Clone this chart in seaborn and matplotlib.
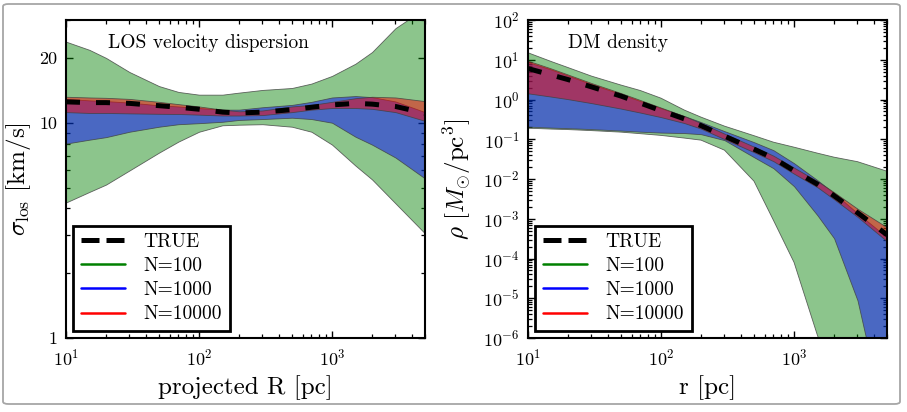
import matplotlib
matplotlib.use("Agg")
import matplotlib.pyplot as plt
import seaborn as sns
import pandas as pd
from matplotlib.lines import Line2D
from matplotlib.patches import FancyBboxPatch
from matplotlib.ticker import FixedLocator, FixedFormatter, LogLocator, NullFormatter

# ---------------- data ----------------
R = [10, 15, 20, 30, 50, 70, 100, 150, 200, 300, 500, 700, 1000, 1500, 2000, 3000, 5000]
sig_true = [12.5, 12.4, 12.4, 12.3, 12.0, 11.8, 11.55, 11.2, 11.1, 11.2, 11.5, 11.8, 12.1, 12.3, 12.2, 11.9, 11.07]
sig_n100_hi = [23.8, 21.8, 20.0, 17.2, 14.8, 13.9, 13.5, 13.5, 13.8, 14.2, 14.5, 15.2, 16.5, 18.8, 21.3, 27.5, 34.0]
sig_n100_lo = [4.26, 4.77, 5.16, 6.0, 7.26, 8.17, 9.08, 9.73, 9.79, 9.84, 9.58, 9.08, 7.91, 6.32, 5.45, 4.22, 3.06]
sig_n1000_hi = [12.9, 12.7, 12.6, 12.4, 12.05, 11.9, 11.7, 11.5, 11.5, 11.8, 12.1, 12.5, 13.1, 13.3, 13.15, 12.55, 11.2]
sig_n1000_lo = [8.0, 8.34, 8.57, 9.08, 9.58, 9.84, 9.95, 10.1, 10.3, 10.4, 10.55, 10.4, 10.0, 8.61, 7.91, 6.89, 5.51]
sig_n10000_hi = [13.2, 13.1, 13.05, 12.9, 12.5, 12.2, 11.9, 11.5, 11.3, 11.4, 11.9, 12.1, 12.5, 13.0, 13.2, 13.1, 12.6]
sig_n10000_lo = [11.2, 11.1, 11.1, 11.05, 11.0, 10.98, 10.9, 10.8, 10.8, 10.85, 11.2, 11.5, 11.7, 11.7, 11.6, 11.2, 10.2]

r = [10, 15, 20, 30, 50, 70, 100, 150, 200, 300, 500, 700, 1000, 1500, 2000, 3000, 5000]
rho_true = [6.0, 4.14, 3.17, 2.08, 1.22, 0.811, 0.525, 0.325, 0.220, 0.120, 0.0563, 0.0334, 0.0162, 0.00740, 0.00379, 0.00142, 3.95e-4]
rho_n100_hi = [15.0, 9.0, 6.36, 3.88, 2.31, 1.68, 1.08, 0.541, 0.360, 0.214, 0.123, 0.0845, 0.0632, 0.0447, 0.0354, 0.0273, 0.0157]
rho_n100_lo = [0.190, 0.180, 0.175, 0.165, 0.151, 0.138, 0.125, 0.107, 0.0949, 0.0531, 0.00881, 9.16e-4, 8.0e-5, 1.16e-6, 9.6e-8, 2.8e-9, 3.2e-11]
rho_n1000_hi = [8.75, 5.66, 4.0, 2.44, 1.37, 0.912, 0.607, 0.382, 0.270, 0.160, 0.0845, 0.0531, 0.0250, 0.00933, 0.00439, 0.00138, 3.42e-4]
rho_n1000_lo = [0.208, 0.196, 0.190, 0.180, 0.165, 0.155, 0.147, 0.143, 0.134, 0.0949, 0.0354, 0.0187, 0.00659, 0.00122, 3.23e-4, 8.85e-6, 4.7e-9]
rho_n10000_hi = [9.44, 6.0, 4.24, 2.59, 1.45, 0.966, 0.625, 0.382, 0.255, 0.138, 0.0651, 0.0386, 0.0193, 0.00881, 0.00465, 0.00179, 6.1e-4]
rho_n10000_lo = [1.43, 1.18, 1.02, 0.811, 0.590, 0.468, 0.360, 0.255, 0.185, 0.1007, 0.0473, 0.0281, 0.0136, 0.00621, 0.00310, 0.00112, 2.71e-4]

legend_labels = ["TRUE", "N=100", "N=1000", "N=10000"]
band_colors = ["green", "blue", "red"]

# ---------------- style ----------------
sns.set_theme(style="ticks")
plt.rcParams.update({
    "font.family": ["cmr10", "DejaVu Serif"],
    "mathtext.fontset": "cm",
    "axes.formatter.use_mathtext": True,
    "axes.unicode_minus": False,
    "axes.linewidth": 1.5,
    "axes.edgecolor": "black",
    "xtick.direction": "in",
    "ytick.direction": "in",
    "xtick.top": True,
    "ytick.right": True,
    "xtick.major.size": 5,
    "ytick.major.size": 5,
    "xtick.minor.size": 3,
    "ytick.minor.size": 3,
    "xtick.major.width": 1.0,
    "ytick.major.width": 1.0,
    "xtick.minor.width": 0.9,
    "ytick.minor.width": 0.9,
    "xtick.color": "black",
    "ytick.color": "black",
    "xtick.labelsize": 13,
    "ytick.labelsize": 13,
    "xtick.major.pad": 7,
    "ytick.major.pad": 6,
    "text.color": "black",
    "axes.labelcolor": "black",
})

fig = plt.figure(figsize=(9.07, 4.12), dpi=100)
ax1 = fig.add_axes([66 / 907, 74 / 412, 359 / 907, 318 / 412])
ax2 = fig.add_axes([528 / 907, 74 / 412, 359 / 907, 318 / 412])

alphas = [0.45, 0.47, 0.48]


def draw_panel(ax, x, true, bands):
    for (lo, hi), col, a in zip(bands, band_colors, alphas):
        ax.fill_between(x, lo, hi, facecolor=matplotlib.colors.to_rgba(col, a),
                        edgecolor=(0.25, 0.25, 0.25, 0.8), linewidth=0.6, zorder=2)
    df = pd.DataFrame({"x": x, "y": true})
    sns.lineplot(data=df, x="x", y="y", ax=ax, color="black", linewidth=3.6,
                 legend=False, zorder=5)
    ln = ax.lines[-1]
    ln.set_dashes((2.8, 3.2))
    ln.set_dash_capstyle("butt")
    ax.set_xscale("log")
    ax.set_yscale("log")
    ax.set_xlim(10, 5000)
    ax.xaxis.set_major_locator(LogLocator(base=10, numticks=10))
    ax.xaxis.set_minor_locator(LogLocator(base=10, subs=range(2, 10), numticks=20))
    ax.xaxis.set_minor_formatter(NullFormatter())
    handles = [
        Line2D([], [], color="black", lw=3.6, dashes=(3.6, 1.4), dash_capstyle="butt"),
        Line2D([], [], color=band_colors[0], lw=1.8),
        Line2D([], [], color=band_colors[1], lw=1.8),
        Line2D([], [], color=band_colors[2], lw=1.8),
    ]
    leg = ax.legend(handles, legend_labels, loc="lower left", fontsize=14,
                    frameon=True, fancybox=False, framealpha=1, edgecolor="black",
                    borderaxespad=0.37, borderpad=0.38, handlelength=2.3,
                    handletextpad=0.95, labelspacing=0.32)
    leg.get_frame().set_linewidth(2.0)
    leg.set_zorder(10)
    for s in ax.spines.values():
        s.set_zorder(12)


draw_panel(ax1, R, sig_true, [(sig_n100_lo, sig_n100_hi), (sig_n1000_lo, sig_n1000_hi),
                              (sig_n10000_lo, sig_n10000_hi)])
draw_panel(ax2, r, rho_true, [(rho_n100_lo, rho_n100_hi), (rho_n1000_lo, rho_n1000_hi),
                              (rho_n10000_lo, rho_n10000_hi)])

# left axis ticks
ax1.set_ylim(1, 30)
ax1.yaxis.set_major_locator(FixedLocator([1, 10, 20]))
ax1.yaxis.set_major_formatter(FixedFormatter(["1", "10", "20"]))
ax1.yaxis.set_minor_locator(LogLocator(base=10, subs=range(2, 10), numticks=20))
ax1.yaxis.set_minor_formatter(NullFormatter())

# right axis ticks
ax2.set_ylim(1e-6, 1e2)
ax2.yaxis.set_major_locator(LogLocator(base=10, numticks=20))
ax2.yaxis.set_minor_locator(LogLocator(base=10, subs=range(2, 10), numticks=30))
ax2.yaxis.set_minor_formatter(NullFormatter())

ax1.set_xlabel("projected R [pc]", fontsize=18)
ax1.set_ylabel(r"$\sigma_{\rm los}$ [km/s]", fontsize=18)
ax2.set_xlabel("r [pc]", fontsize=18)
ax2.set_ylabel(r"$\rho\ [M_{\odot}/{\rm pc}^3]$", fontsize=18)
ax1.xaxis.set_label_coords(0.5, -0.116)
ax2.xaxis.set_label_coords(0.5, -0.116)
ax1.yaxis.set_label_coords(-0.092, 0.5)
ax2.yaxis.set_label_coords(-0.154, 0.5)

ax1.text(0.117, 0.928, "LOS velocity dispersion", transform=ax1.transAxes,
         ha="left", va="center", fontsize=14, zorder=11)
ax2.text(0.112, 0.928, "DM density", transform=ax2.transAxes,
         ha="left", va="center", fontsize=14, zorder=11)

border = FancyBboxPatch((3 / 907, 8 / 412), 897 / 907, 400 / 412,
                        boxstyle="round,pad=0,rounding_size=0.006",
                        transform=fig.transFigure, fill=False,
                        edgecolor="#a6a6a6", linewidth=1.3)
fig.patches.append(border)

fig.savefig("out.png", dpi=100)
